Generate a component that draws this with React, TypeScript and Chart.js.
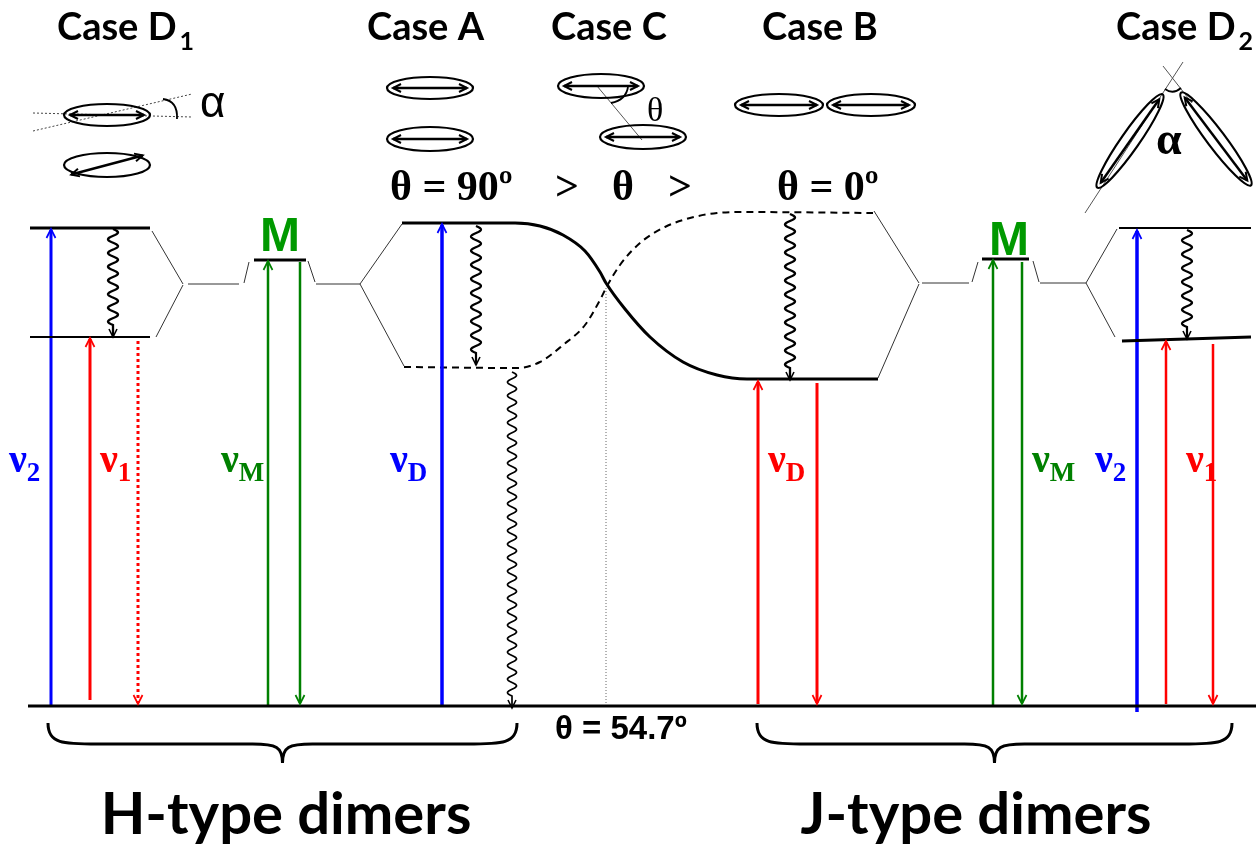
import React, { useEffect, useRef } from 'react';
import { Chart, registerables } from 'chart.js';
Chart.register(...registerables);

const BLUE = '#0000ff';
const RED = '#ff0000';
const GREEN = '#008000';
const MGREEN = '#009900';
const BLACK = '#000000';
const GREY = '#333333';

// energy levels [x1, y1, x2, y2]
const thickLevels = [
  [28, 706, 1256, 706],
  [30, 228, 150, 228],
  [254, 260, 306, 260],
  [982, 259, 1029, 259],
  [1122, 341, 1251, 337],
];
const thinLevels = [
  [30, 337, 150, 337],
  [1119, 228, 1251, 228],
];
const connectors = [
  [152, 231, 183, 284], [183, 285, 156, 337], [188, 284, 239, 284], [244, 283, 249, 262],
  [308, 261, 315, 282], [316, 284, 360, 284], [360, 284, 402, 224], [360, 284, 404, 366],
  [874, 211, 919, 283], [919, 284, 878, 378], [922, 283, 969, 283], [972, 282, 978, 262],
  [1033, 261, 1039, 282], [1040, 283, 1086, 283], [1086, 283, 1117, 229], [1086, 283, 1115, 337],
];
const solidCurveX = [402, 515, 540, 563, 585, 600, 606, 625, 650, 683, 717, 747, 878];
const solidCurveY = [223, 223, 226, 235, 251, 272, 283, 309, 337, 362, 375, 379, 379];
const dashedCurveX = [404, 517, 540, 563, 585, 600, 606, 620, 640, 665, 690, 717, 740, 873];
const dashedCurveY = [367, 368, 362, 345, 325, 300, 288, 265, 243, 227, 218, 213, 212, 213];
const magicLine = [606, 288, 606, 706];

// transitions
const arrowX = [51, 90, 138, 268, 300, 442, 758, 817, 993, 1022, 1137, 1166, 1213];
const arrowFrom = [706, 700, 341, 706, 262, 706, 704, 383, 706, 262, 712, 704, 344];
const arrowTo = [229, 338, 704, 261, 704, 224, 381, 704, 260, 704, 230, 341, 704];
const arrowColor = [BLUE, RED, RED, GREEN, GREEN, BLUE, RED, RED, GREEN, GREEN, BLUE, RED, RED];
const arrowWidth = [3, 3, 3, 2.5, 2.5, 3.5, 3, 3, 2.5, 2.5, 3.5, 2.5, 2.5];
const arrowDotted = [false, false, true, false, false, false, false, false, false, false, false, false, false];

// non-radiative (wavy) transitions
const wavyX = [113, 476, 512, 790, 1187];
const wavyFrom = [229, 226, 372, 214, 230];
const wavyTo = [337, 365, 708, 380, 339];
const wavyWidth = [2.3, 2.2, 1.7, 2.3, 2.2];

// molecules (ellipses with transition dipoles)
const ellCX = [107, 107, 430, 430, 601, 643, 779, 871, 1130, 1216];
const ellCY = [115, 165, 88, 139, 86, 137, 105, 105, 141, 139];
const ellRX = [43, 43, 43, 43, 43, 43, 44, 44, 57, 58];
const ellRY = [11, 12, 11, 12, 12, 12, 11, 11, 9, 9];
const ellAngle = [0, 0, 0, 0, 0, 0, 0, 0, -55, 53];
const dipoleAngle = [0, -15, 0, 0, 0, 0, 0, 0, -55, 53];

// thin geometry lines in the top pictures
const thinDotted = [[33, 113, 192, 117], [33, 131, 192, 94]];
const thinSolid = [[597, 86, 642, 140], [1085, 213, 1183, 62], [1163, 66, 1192, 103]];

// braces
const braceX1 = [48, 757];
const braceX2 = [517, 1232];

// texts
const caseTitles = ['Case D', 'Case A', 'Case C', 'Case B', 'Case D'];
const caseSubs = ['1', '', '', '', '2'];
const caseX = [57, 367, 551, 762, 1116];
const thetaRow = ['θ = 90º', '>', 'θ', '>', 'θ = 0º'];
const thetaRowX = [390, 555, 612, 668, 777];
const nuSubs = ['2', '1', 'M', 'D', 'D', 'M', '2', '1'];
const nuX = [9, 100, 221, 390, 768, 1032, 1095, 1186];
const nuColor = [BLUE, RED, GREEN, BLUE, RED, GREEN, BLUE, RED];
const mLabelX = [280, 1009];
const mLabelY = [251, 255];
const groupLabels = ['H-type dimers', 'J-type dimers'];
const groupX = [286, 976];

function chevron(ctx: CanvasRenderingContext2D, tx: number, ty: number, dx: number, dy: number, len: number, half: number, lw: number, color: string) {
  const n = Math.hypot(dx, dy);
  dx /= n; dy /= n;
  const bx = tx - dx * len, by = ty - dy * len;
  const px = -dy, py = dx;
  ctx.save();
  ctx.setLineDash([]);
  ctx.beginPath();
  ctx.moveTo(bx + px * half, by + py * half);
  ctx.lineTo(tx, ty);
  ctx.lineTo(bx - px * half, by - py * half);
  ctx.strokeStyle = color;
  ctx.lineWidth = lw;
  ctx.stroke();
  ctx.restore();
}

const diagramPlugin = {
  id: 'diagram',
  afterDatasetsDraw(chart: any) {
    const ctx: CanvasRenderingContext2D = chart.ctx;
    const sx = chart.scales.x, sy = chart.scales.y;
    const X = (v: number) => sx.getPixelForValue(v);
    const Y = (v: number) => sy.getPixelForValue(v);
    ctx.save();
    ctx.lineCap = 'butt';

    // arrow heads
    arrowX.forEach((x, i) => {
      const dir = arrowTo[i] > arrowFrom[i] ? 1 : -1;
      chevron(ctx, X(x), Y(arrowTo[i]), 0, dir, 9, 4.5, 1.7, arrowColor[i]);
    });

    // wavy arrows
    wavyX.forEach((x, i) => {
      const y1 = Y(wavyFrom[i]), y2 = Y(wavyTo[i]);
      const x0 = X(x);
      const waveEnd = y2 - 12;
      const nPer = Math.max(1, Math.round((waveEnd - y1) / 13.5));
      const per = (waveEnd - y1) / nPer;
      const amp = wavyWidth[i] < 2 ? 4.5 : 5;
      ctx.beginPath();
      ctx.moveTo(x0, y1);
      for (let y = y1; y <= waveEnd + 0.01; y += 0.5) {
        ctx.lineTo(x0 + amp * Math.sin((2 * Math.PI * (y - y1)) / per), y);
      }
      ctx.lineTo(x0, y2);
      ctx.strokeStyle = BLACK;
      ctx.lineWidth = wavyWidth[i];
      ctx.setLineDash([]);
      ctx.stroke();
      chevron(ctx, x0, y2, 0, 1, 8, 4, 1.6, BLACK);
    });

    // ellipses + dipoles
    ellCX.forEach((cx, i) => {
      const a = (ellAngle[i] * Math.PI) / 180;
      ctx.beginPath();
      ctx.ellipse(X(cx), Y(ellCY[i]), ellRX[i], ellRY[i], a, 0, Math.PI * 2);
      ctx.strokeStyle = BLACK;
      ctx.lineWidth = 2.2;
      ctx.stroke();
      const d = (dipoleAngle[i] * Math.PI) / 180;
      const L = ellRX[i] - 6;
      const dx = Math.cos(d), dy = Math.sin(d);
      const ax = X(cx) - dx * L, ay = Y(ellCY[i]) - dy * L;
      const bx = X(cx) + dx * L, by = Y(ellCY[i]) + dy * L;
      ctx.beginPath();
      ctx.moveTo(ax, ay);
      ctx.lineTo(bx, by);
      ctx.lineWidth = 2.5;
      ctx.stroke();
      chevron(ctx, bx, by, dx, dy, 8, 4, 2, BLACK);
      chevron(ctx, ax, ay, -dx, -dy, 8, 4, 2, BLACK);
    });

    // angle arcs
    ctx.strokeStyle = BLACK;
    ctx.lineWidth = 1.8;
    ctx.beginPath();
    ctx.moveTo(X(163), Y(99));
    ctx.quadraticCurveTo(X(178), Y(101), X(177), Y(119));
    ctx.stroke();
    ctx.beginPath();
    ctx.moveTo(X(611), Y(103));
    ctx.quadraticCurveTo(X(626), Y(100), X(628), Y(87));
    ctx.stroke();
    ctx.beginPath();
    ctx.moveTo(X(1165), Y(89));
    ctx.quadraticCurveTo(X(1173), Y(95), X(1181), Y(88));
    ctx.stroke();

    // braces
    braceX1.forEach((x1, i) => {
      const x2 = braceX2[i];
      const xc = (x1 + x2) / 2;
      const yT = Y(723), yM = Y(744), yP = Y(763);
      ctx.beginPath();
      ctx.moveTo(X(x1), yT);
      ctx.bezierCurveTo(X(x1), yM, X(x1 + 15), yM, X(x1 + 50), yM);
      ctx.lineTo(X(xc - 30), yM);
      ctx.bezierCurveTo(X(xc - 6), yM, X(xc), yM + 3, X(xc), yP);
      ctx.bezierCurveTo(X(xc), yM + 3, X(xc + 6), yM, X(xc + 30), yM);
      ctx.lineTo(X(x2 - 50), yM);
      ctx.bezierCurveTo(X(x2 - 15), yM, X(x2), yM, X(x2), yT);
      ctx.lineWidth = 3;
      ctx.strokeStyle = BLACK;
      ctx.stroke();
    });

    // texts
    ctx.textBaseline = 'alphabetic';
    ctx.fillStyle = BLACK;
    caseTitles.forEach((t, i) => {
      ctx.font = 'bold 38px Lato';
      ctx.textAlign = 'left';
      ctx.fillText(t, X(caseX[i]), Y(40));
      if (caseSubs[i]) {
        const w = ctx.measureText(t).width;
        ctx.font = 'bold 25px Lato';
        ctx.fillText(caseSubs[i], X(caseX[i]) + w + 3, Y(50));
      }
    });
    ctx.font = 'bold 42px "Liberation Serif"';
    thetaRow.forEach((t, i) => ctx.fillText(t, X(thetaRowX[i]), Y(200)));
    ctx.font = '34px "Liberation Serif"';
    ctx.fillText('θ', X(647), Y(121));
    ctx.font = '44px "Liberation Sans"';
    ctx.fillText('α', X(200), Y(117));
    ctx.font = 'bold 46px "Liberation Serif"';
    ctx.fillText('α', X(1156), Y(154));
    ctx.font = 'bold 33px "Liberation Sans"';
    ctx.fillText('θ = 54.7º', X(555), Y(739));

    nuSubs.forEach((s, i) => {
      ctx.fillStyle = nuColor[i];
      ctx.font = 'bold 40px "Liberation Serif"';
      ctx.fillText('ν', X(nuX[i]), Y(472));
      const w = ctx.measureText('ν').width;
      ctx.font = 'bold 27px "Liberation Serif"';
      ctx.fillText(s, X(nuX[i]) + w, Y(481));
    });

    ctx.fillStyle = MGREEN;
    ctx.font = 'bold 48px "Liberation Sans"';
    ctx.textAlign = 'center';
    mLabelX.forEach((x, i) => ctx.fillText('M', X(x), Y(mLabelY[i])));

    ctx.fillStyle = BLACK;
    ctx.font = 'bold 58px Lato';
    groupLabels.forEach((t, i) => ctx.fillText(t, X(groupX[i]), Y(834)));
    ctx.restore();
  },
};

export default function App() {
  const ref = useRef<HTMLCanvasElement>(null);
  useEffect(() => {
    const datasets: any[] = [];
    const seg = (s: number[], color: string, width: number, dash: number[] = []) =>
      datasets.push({
        data: [{ x: s[0], y: s[1] }, { x: s[2], y: s[3] }],
        borderColor: color,
        borderWidth: width,
        borderDash: dash,
        pointRadius: 0,
        fill: false,
        tension: 0,
      });
    thickLevels.forEach((s) => seg(s, BLACK, 3));
    thinLevels.forEach((s) => seg(s, BLACK, 2));
    connectors.forEach((s) => seg(s, GREY, 1));
    seg(magicLine, '#666666', 1, [1, 2]);
    thinDotted.forEach((s) => seg(s, '#444444', 1, [2, 2]));
    thinSolid.forEach((s) => seg(s, '#555555', 1));
    arrowX.forEach((x, i) => {
      const dir = arrowTo[i] > arrowFrom[i] ? 1 : -1;
      seg([x, arrowFrom[i], x, arrowTo[i] - dir * 1], arrowColor[i], arrowWidth[i], arrowDotted[i] ? [3, 3] : []);
    });
    datasets.push({
      data: solidCurveX.map((x, i) => ({ x, y: solidCurveY[i] })),
      borderColor: BLACK,
      borderWidth: 3,
      pointRadius: 0,
      fill: false,
      cubicInterpolationMode: 'monotone',
    });
    datasets.push({
      data: dashedCurveX.map((x, i) => ({ x, y: dashedCurveY[i] })),
      borderColor: BLACK,
      borderWidth: 2,
      borderDash: [7, 5],
      pointRadius: 0,
      fill: false,
      cubicInterpolationMode: 'monotone',
    });

    const chart = new Chart(ref.current as HTMLCanvasElement, {
      type: 'line',
      data: { datasets },
      options: {
        animation: false,
        responsive: false,
        events: [],
        layout: { padding: 0 },
        scales: {
          x: { type: 'linear', min: 0, max: 1256, display: false },
          y: { type: 'linear', min: 0, max: 849, reverse: true, display: false },
        },
        plugins: { legend: { display: false }, tooltip: { enabled: false } },
      },
      plugins: [diagramPlugin],
    } as any);
    return () => chart.destroy();
  }, []);
  return (
    <div style={{ position: 'fixed', left: 0, top: 0, width: 1256, height: 849, background: '#ffffff' }}>
      <canvas ref={ref} width={1256} height={849} style={{ display: 'block' }} />
    </div>
  );
}
